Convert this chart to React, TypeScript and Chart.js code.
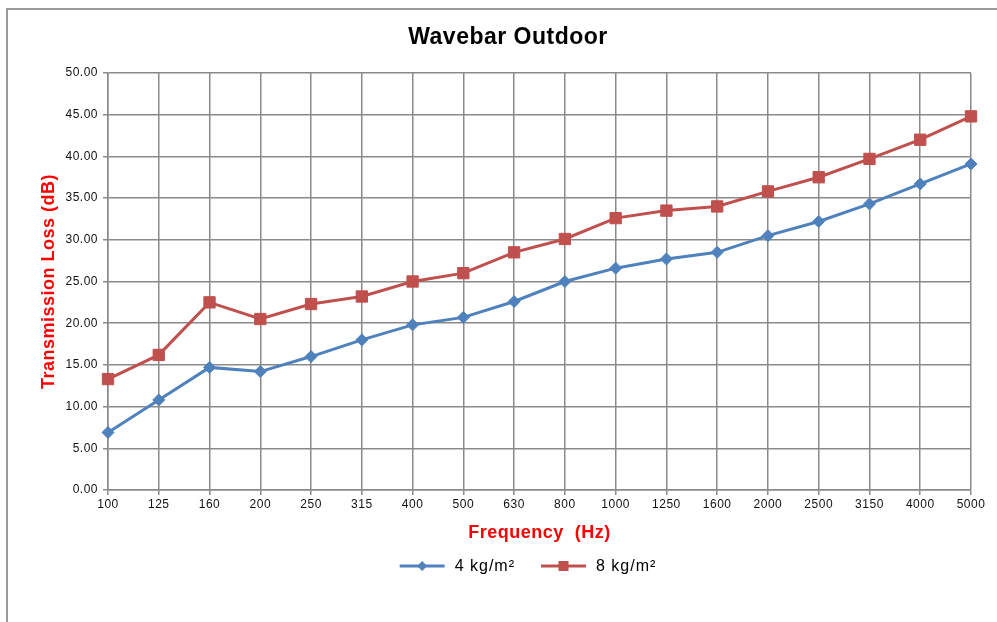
import React, { useEffect, useRef } from 'react';
import { Chart, registerables } from 'chart.js';

Chart.register(...registerables);

// ---- data ----
const TITLE = 'Wavebar Outdoor';
const X_TITLE = 'Frequency  (Hz)';
const Y_TITLE = 'Transmission Loss (dB)';

const categories = ['100', '125', '160', '200', '250', '315', '400', '500', '630', '800', '1000', '1250', '1600', '2000', '2500', '3150', '4000', '5000'];

const series4Label = '4 kg/m²';
const series4 = [6.9, 10.8, 14.7, 14.2, 16.0, 18.0, 19.8, 20.7, 22.6, 25.0, 26.6, 27.7, 28.5, 30.5, 32.2, 34.3, 36.7, 39.1];

const series8Label = '8 kg/m²';
const series8 = [13.3, 16.2, 22.5, 20.5, 22.3, 23.2, 25.0, 26.0, 28.5, 30.1, 32.6, 33.5, 34.0, 35.8, 37.5, 39.7, 42.0, 44.8];

const yMin = 0;
const yMax = 50;
const yStep = 5;

// ---- styles ----
const FONT = '"Liberation Sans", Arial, Helvetica, sans-serif';
const BLUE = '#4F81BD';
const RED = '#C0504D';
const GRID = '#8a8a8a';
const AXIS_TITLE = '#ff0000';

const spacingPlugin = {
  id: 'spacing',
  beforeDraw(chart: any) {
    chart.ctx.letterSpacing = '0.5px';
  },
};

const titlePlugin = {
  id: 'customTitle',
  afterDraw(chart: any) {
    const ctx = chart.ctx;
    ctx.save();
    ctx.letterSpacing = '0.5px';
    ctx.font = `bold 23px ${FONT}`;
    ctx.fillStyle = '#000';
    ctx.textAlign = 'center';
    ctx.textBaseline = 'alphabetic';
    ctx.fillText(TITLE, 508, 44);
    ctx.restore();
  },
};

const legendPlugin = {
  id: 'lineLegend',
  afterDraw(chart: any) {
    const ctx = chart.ctx;
    const datasets = chart.data.datasets;
    const lineW = 45;
    const gap = 10;
    const itemGap = 26;
    const y = 566;
    const centerX = 528;
    ctx.save();
    ctx.font = `16px ${FONT}`;
    ctx.letterSpacing = '1px';
    const widths = datasets.map((ds: any) => lineW + gap + ctx.measureText(ds.label).width);
    const total = widths.reduce((a: number, b: number) => a + b, 0) + itemGap * (datasets.length - 1);
    let x = centerX - total / 2;
    datasets.forEach((ds: any, i: number) => {
      const color = ds.borderColor;
      ctx.strokeStyle = color;
      ctx.lineWidth = 3;
      ctx.beginPath();
      ctx.moveTo(x, y);
      ctx.lineTo(x + lineW, y);
      ctx.stroke();
      const mx = x + lineW / 2;
      ctx.fillStyle = color;
      ctx.beginPath();
      if (ds.pointStyle === 'rectRot') {
        const r = 5;
        ctx.moveTo(mx - r, y);
        ctx.lineTo(mx, y - r);
        ctx.lineTo(mx + r, y);
        ctx.lineTo(mx, y + r);
        ctx.closePath();
      } else {
        const s = 5;
        ctx.rect(mx - s, y - s, 2 * s, 2 * s);
      }
      ctx.fill();
      ctx.fillStyle = '#000';
      ctx.textAlign = 'left';
      ctx.textBaseline = 'middle';
      ctx.fillText(ds.label, x + lineW + gap, y + 1);
      x += widths[i] + itemGap;
    });
    ctx.restore();
  },
};

export default function App() {
  const ref = useRef<HTMLCanvasElement>(null);

  useEffect(() => {
    const chart = new Chart(ref.current as HTMLCanvasElement, {
      type: 'line',
      data: {
        labels: categories,
        datasets: [
          {
            label: series4Label,
            data: series4,
            borderColor: BLUE,
            backgroundColor: BLUE,
            borderWidth: 3,
            pointStyle: 'rectRot',
            pointRadius: 6,
            pointBorderWidth: 1,
            pointBackgroundColor: BLUE,
            pointBorderColor: BLUE,
            tension: 0,
          },
          {
            label: series8Label,
            data: series8,
            borderColor: RED,
            backgroundColor: RED,
            borderWidth: 3,
            pointStyle: 'rect',
            pointRadius: 8,
            pointBorderWidth: 1,
            pointBackgroundColor: RED,
            pointBorderColor: RED,
            tension: 0,
          },
        ],
      },
      options: {
        responsive: false,
        devicePixelRatio: 1,
        animation: false,
        layout: { padding: { left: 0, top: 73, right: 26, bottom: 72 } },
        plugins: {
          legend: { display: false },
          title: { display: false },
          tooltip: { enabled: false },
        },
        scales: {
          x: {
            type: 'category',
            offset: false,
            grid: { color: GRID, lineWidth: 1.5, tickLength: 5, drawTicks: true },
            border: { color: GRID, width: 1.5 },
            ticks: {
              color: '#111',
              font: { family: FONT, size: 12 },
              maxRotation: 0,
              autoSkip: false,
              padding: 2.5,
            },
            title: {
              display: true,
              text: X_TITLE,
              color: AXIS_TITLE,
              font: { family: FONT, size: 18, weight: 'bold' },
              padding: { top: 0, bottom: 5.7 },
            },
            afterFit(scale: any) {
              scale.height = 60;
            },
          },
          y: {
            min: yMin,
            max: yMax,
            grid: { color: GRID, lineWidth: 1.5, tickLength: 5, drawTicks: true },
            border: { color: GRID, width: 1.5 },
            ticks: {
              stepSize: yStep,
              color: '#111',
              font: { family: FONT, size: 12 },
              padding: 5,
              callback: (v: any) => Number(v).toFixed(2),
            },
            title: {
              display: true,
              text: Y_TITLE,
              color: AXIS_TITLE,
              font: { family: FONT, size: 18, weight: 'bold' },
              padding: { top: 38.7, bottom: 0 },
            },
            afterFit(scale: any) {
              scale.width = 108;
            },
          },
        },
      },
      plugins: [spacingPlugin, titlePlugin, legendPlugin],
    } as any);
    return () => chart.destroy();
  }, []);

  return (
    <div
      style={{
        position: 'fixed',
        left: 0,
        top: 0,
        width: 997,
        height: 622,
        overflow: 'hidden',
        background: '#fff',
      }}
    >
      <div
        style={{
          position: 'absolute',
          left: 6,
          top: 8,
          width: 1200,
          height: 900,
          borderLeft: '2px solid #9a9a9a',
          borderTop: '2px solid #9a9a9a',
        }}
      />
      <canvas
        ref={ref}
        width={997}
        height={622}
        style={{ position: 'absolute', left: 0, top: 0, width: 997, height: 622 }}
      />
    </div>
  );
}
